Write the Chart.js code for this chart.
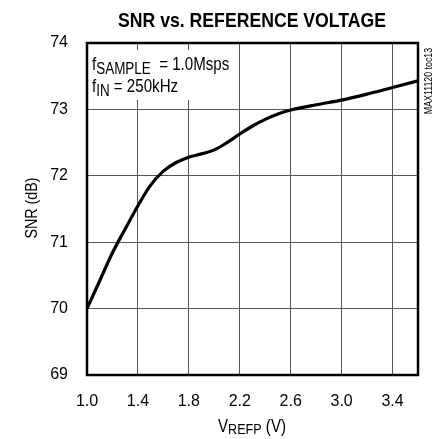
<!DOCTYPE html>
<html>
<head>
<meta charset="utf-8">
<script src="https://cdn.jsdelivr.net/npm/chart.js@4/dist/chart.umd.min.js"></script>
<style>
html,body{margin:0;padding:0;background:#fff;}
canvas{display:block;}
</style>
</head>
<body>
<canvas id="c" width="440" height="439"></canvas>
<script>
const vrefp = [1.0,1.1,1.2,1.3,1.4,1.5,1.6,1.7,1.8,1.9,2.0,2.1,2.2,2.3,2.4,2.5,2.6,2.8,3.0,3.2,3.4,3.6];
const snr   = [70.0,70.42,70.84,71.2,71.55,71.86,72.07,72.2,72.28,72.33,72.39,72.5,72.63,72.75,72.85,72.93,72.99,73.07,73.14,73.23,73.33,73.43];
const xTicks = [1.0,1.4,1.8,2.2,2.6,3.0,3.4];
const yTicks = [69,70,71,72,73,74];

const FONT = "'Liberation Sans', Arial, sans-serif";
const SX = 0.84; // condensed look

function runs(ctx, parts, x, y, align){
  let widths = parts.map(p=>{ ctx.font = (p[3]?'bold ':'') + p[1] + 'px ' + FONT; return ctx.measureText(p[0]).width; });
  const total = widths.reduce((a,b)=>a+b,0);
  ctx.save();
  ctx.translate(x, y);
  ctx.scale(SX, 1);
  let cx = align==='center' ? -total/2 : 0;
  ctx.textAlign = 'left';
  ctx.textBaseline = 'alphabetic';
  parts.forEach((p,i)=>{
    ctx.font = (p[3]?'bold ':'') + p[1] + 'px ' + FONT;
    ctx.fillText(p[0], cx, p[2]);
    cx += widths[i];
  });
  ctx.restore();
}

const deco = {
  id:'deco',
  beforeDatasetsDraw(chart){
    const ctx = chart.ctx, a = chart.chartArea;
    ctx.save();
    ctx.fillStyle = '#fff';
    ctx.fillRect(a.left+2, 50, 146, 50);
    ctx.fillStyle = '#000';
    runs(ctx, [['f',18,0],['SAMPLE',16,4],['  = 1.0Msps',18,0]], 92, 70, 'left');
    runs(ctx, [['f',18,0],['IN',16,4],[' = 250kHz',18,0]], 92, 92, 'left');
    ctx.restore();
  },
  afterDraw(chart){
    const ctx = chart.ctx, a = chart.chartArea;
    ctx.save();
    ctx.strokeStyle = '#000';
    ctx.lineWidth = 2.5;
    ctx.strokeRect(a.left, a.top, a.right-a.left, a.bottom-a.top);
    ctx.fillStyle = '#000';
    runs(ctx, [['SNR vs. REFERENCE VOLTAGE',21,0,true]], 252, 27, 'center');
    runs(ctx, [['V',18,0],['REFP',15,2],[' (V)',18,0]], 252, 432, 'center');
    ctx.save();
    ctx.translate(31, 208);
    ctx.rotate(-Math.PI/2);
    runs(ctx, [['SNR (dB)',17,0]], 0, 6, 'center');
    ctx.restore();
    ctx.save();
    ctx.translate(428, 81);
    ctx.rotate(-Math.PI/2);
    runs(ctx, [['MAX11120 toc13',10.5,0]], 0, 4, 'center');
    ctx.restore();
    ctx.restore();
  }
};

new Chart(document.getElementById('c'), {
  type:'line',
  data:{
    datasets:[{
      data: vrefp.map((v,i)=>({x:v, y:snr[i]})),
      borderColor:'#000',
      borderWidth:3.2,
      pointRadius:0,
      cubicInterpolationMode:'monotone',
      fill:false
    }]
  },
  options:{
    responsive:false,
    animation:false,
    devicePixelRatio:1,
    layout:{padding:{top:43,right:22,left:0,bottom:0}},
    plugins:{legend:{display:false},title:{display:false},tooltip:{enabled:false}},
    scales:{
      x:{
        type:'linear', min:1.0, max:3.6,
        afterFit(s){ s.height = 64; },
        afterBuildTicks(s){ s.ticks = xTicks.map(v=>({value:v})); },
        grid:{color:'#555', lineWidth:1, drawTicks:false},
        border:{display:false},
        ticks:{padding:17, color:'#000', font:{family:FONT, size:16}, maxRotation:0, autoSkip:false,
               callback:v=>Number(v).toFixed(1)}
      },
      y:{
        type:'linear', min:69, max:74,
        afterFit(s){ s.width = 87; },
        afterBuildTicks(s){ s.ticks = yTicks.map(v=>({value:v})); },
        grid:{color:'#555', lineWidth:1, drawTicks:false},
        border:{display:false},
        ticks:{padding:19, color:'#000', font:{family:FONT, size:16}, autoSkip:false,
               callback:v=>String(v)}
      }
    }
  },
  plugins:[deco]
});
</script>
</body>
</html>
